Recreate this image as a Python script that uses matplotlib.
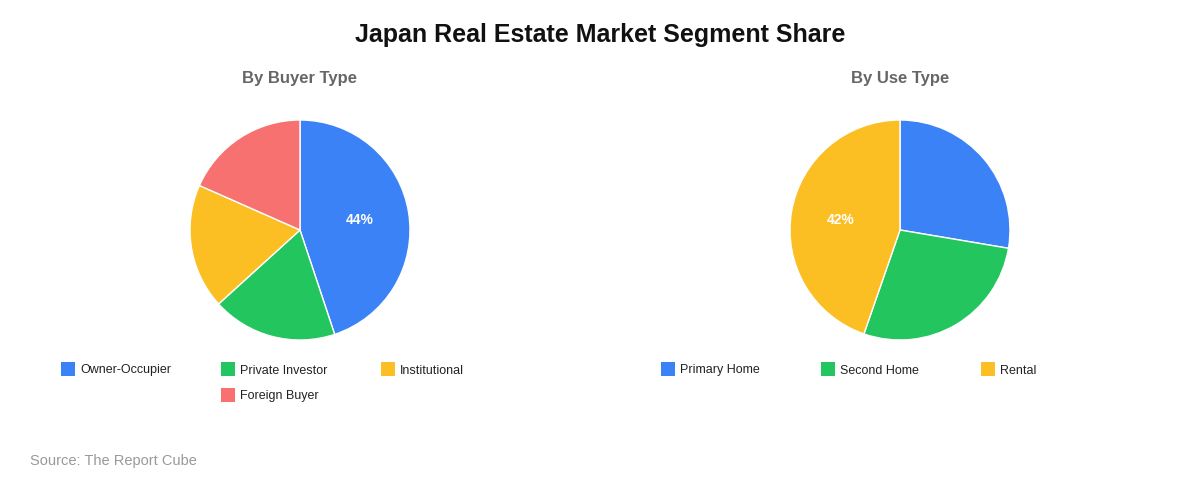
import numpy as np
import matplotlib.pyplot as plt
from matplotlib.patches import Rectangle

plt.rcParams['font.family'] = ['Liberation Sans', 'DejaVu Sans']

# data
buyer_labels = ["Owner-Occupier", "Private Investor", "Institutional", "Foreign Buyer"]
buyer_values = [44, 18, 18, 18]
use_labels = ["Primary Home", "Second Home", "Rental"]
use_values = [26, 26, 42]
colors = ["#3B82F6", "#22C55E", "#FBBF24", "#F87171"]

W, H = 1200, 480
fig = plt.figure(figsize=(12, 4.8), dpi=100)
fig.patch.set_facecolor("white")


def px(x, y):
    # pixel (top-left origin) -> figure fraction
    return x / W, 1 - y / H


def draw_pie(cx, cy, r, values, labels, subtitle, leg_x0):
    ax = fig.add_axes([(cx - r) / W, (H - cy - r) / H, 2 * r / W, 2 * r / H])
    wedges, _ = ax.pie(values, colors=colors[:len(values)], startangle=90,
                       counterclock=False, radius=1,
                       wedgeprops=dict(edgecolor="white", linewidth=1))
    ax.set_xlim(-1, 1)
    ax.set_ylim(-1, 1)
    ax.set_aspect("equal")
    ax.axis("off")
    for w, v in zip(wedges, values):
        if v >= 30:
            mid = np.deg2rad((w.theta1 + w.theta2) / 2)
            ax.text(0.55 * np.cos(mid), 0.55 * np.sin(mid), f"{v}%",
                    ha="center", va="center", color="white",
                    fontsize=10, fontweight="bold")
    fig.text(*px(cx, 78.5), subtitle, ha="center", va="center",
             fontsize=12, fontweight="bold", color="#666666")
    # legend
    for i, lab in enumerate(labels):
        row, col = divmod(i, 3)
        if row == 1:
            col = 1
        x = leg_x0 + col * 160
        y = 369 + row * 26
        fig.patches.append(Rectangle(px(x, y + 7), 14 / W, 14 / H,
                                     transform=fig.transFigure,
                                     facecolor=colors[i], edgecolor="none"))
        fig.text(*px(x + 19, y + 1.5), lab, ha="left", va="center",
                 fontsize=9, color="#222222")


draw_pie(300, 230, 110, buyer_values, buyer_labels, "By Buyer Type", 61)
draw_pie(900, 230, 110, use_values, use_labels, "By Use Type", 661)

fig.text(*px(600, 35), "Japan Real Estate Market Segment Share", ha="center",
         va="center", fontsize=18, fontweight="bold", color="#111111")
fig.text(*px(30, 461.5), "Source: The Report Cube", ha="left", va="center",
         fontsize=10.5, color="#999999")

fig.savefig("out.png", dpi=100, facecolor="white")
